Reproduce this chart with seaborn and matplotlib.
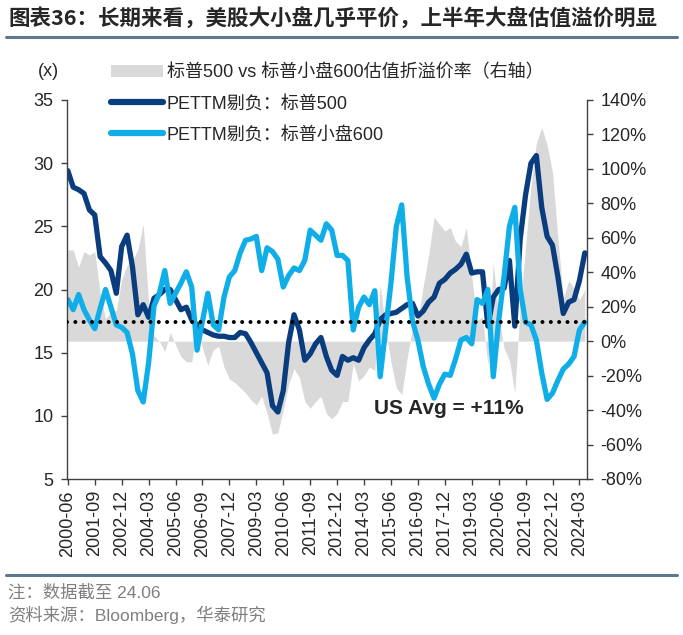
import pandas as pd
import matplotlib
matplotlib.use("Agg")
import matplotlib.pyplot as plt
import matplotlib.transforms as mtransforms
from matplotlib.patches import Patch
from matplotlib.lines import Line2D
import seaborn as sns

# quarterly, 2000-06 .. 2024-06
quarters = pd.period_range("2000Q2", "2024Q2", freq="Q")
quarter_labels = [f"{p.year}-{p.quarter * 3:02d}" for p in quarters]

pe_sp500 = [
    29.4, 28.1, 27.9, 27.6, 26.3, 25.9, 22.6, 22.1, 21.5, 19.7,
    23.4, 24.3, 21.8, 18.0, 18.8, 17.8, 19.3, 19.6, 20.0, 20.0,
    19.2, 18.4, 18.6, 17.6, 17.2, 16.8, 16.6, 16.4, 16.3, 16.3,
    16.2, 16.2, 16.6, 16.5, 15.8, 15.0, 14.2, 13.4, 10.8, 10.3,
    12.0, 15.8, 18.0, 16.8, 14.4, 14.9, 15.7, 16.2, 14.7, 13.6,
    13.2, 14.7, 14.4, 14.6, 14.4, 15.4, 16.0, 16.5, 17.6, 18.0,
    18.1, 18.2, 18.5, 18.8, 18.9, 17.9, 18.3, 19.0, 19.4, 20.5,
    20.8, 21.3, 21.6, 22.0, 22.8, 21.3, 21.4, 21.4, 17.1, 19.4,
    20.0, 20.1, 22.3, 17.1, 24.0, 27.5, 30.0, 30.6, 26.5, 24.2,
    23.5, 21.0, 18.1, 19.0, 19.2, 20.7, 22.9,
]

pe_sp600 = [
    19.2, 18.4, 19.6, 18.4, 17.6, 16.9, 18.5, 20.0, 18.6, 17.2,
    17.0, 16.6, 14.9, 12.0, 11.1, 14.2, 18.7, 19.7, 21.5, 18.9,
    19.7, 20.5, 21.4, 20.2, 15.2, 17.5, 19.7, 17.2, 16.8, 19.4,
    21.0, 21.5, 22.9, 23.9, 24.0, 24.2, 21.5, 23.3, 23.0, 22.4,
    20.2, 21.1, 21.7, 21.5, 22.3, 24.7, 24.3, 23.9, 25.2, 24.7,
    22.7, 22.7, 22.3, 16.8, 18.6, 19.4, 18.8, 19.9, 13.1, 16.8,
    20.5, 25.0, 26.7, 21.0, 17.5, 16.0, 13.9, 12.5, 11.4, 12.5,
    13.3, 13.2, 14.5, 16.0, 16.2, 15.7, 19.2, 18.9, 20.0, 13.1,
    17.5, 21.0, 25.0, 26.5, 20.0, 17.4, 17.2, 16.0, 13.4, 11.3,
    11.8, 12.8, 13.7, 14.1, 14.7, 16.8, 17.4,
]

# premium of S&P500 over S&P600 (%), right axis
premium = [
    53, 53, 43, 52, 50, 52, 28, 13, 17, 18,
    36, 44, 47, 53, 68, 22, 3, 0, -6, 5,
    -2, -9, -12, -12, 10, -4, -14, -5, -3, -15,
    -22, -24, -27, -30, -34, -37, -32, -42, -54, -53,
    -40, -25, -16, -21, -35, -39, -35, -32, -42, -45,
    -42, -35, -35, -13, -23, -20, -15, -17, 33, 7,
    -12, -27, -31, -10, 8, 12, 32, 50, 72, 68,
    64, 66, 58, 55, 66, 38, 12, 14, -14, 46,
    14, -4, -11, -30, 20, 55, 90, 115, 124, 114,
    98, 60, 25, 35, 31, 24, 30,
]
avg_premium = 11

left_ticks = [5, 10, 15, 20, 25, 30, 35]
right_ticks = list(range(-80, 141, 20))

title = "图表36：长期来看，美股大小盘几乎平价，上半年大盘估值溢价明显"
legend_labels = ["标普500 vs 标普小盘600估值折溢价率（右轴）",
                 "PETTM剔负：标普500", "PETTM剔负：标普小盘600"]
note = "注：数据截至 24.06"
source = "资料来源：Bloomberg，华泰研究"

DARK = "#0A3D7E"
LIGHT = "#10AEE8"
GREY = "#D9D9D9"
RULE = "#5E7890"

sns.set_theme(style="white")
plt.rcParams["font.family"] = ["Liberation Sans", "Noto Sans CJK SC"]

df = pd.DataFrame({"q": range(len(quarters)), "sp500": pe_sp500,
                   "sp600": pe_sp600, "prem": premium})

W, H = 683, 635
fig = plt.figure(figsize=(W / 100, H / 100), dpi=100)
ax = fig.add_axes([67.3 / W, 1 - 479 / H, (586.7 - 67.3) / W, (479 - 100) / H])
ax2 = ax.twinx()
ax.set_zorder(ax2.get_zorder() + 1)
ax.patch.set_visible(False)

ax2.fill_between(df["q"], 0, df["prem"], color=GREY, lw=0)

sns.lineplot(data=df, x="q", y="sp500", ax=ax, color=DARK, lw=3.8)
sns.lineplot(data=df, x="q", y="sp600", ax=ax, color=LIGHT, lw=3.8)

# average premium, positioned on the right axis scale but drawn above the lines
trans = mtransforms.blended_transform_factory(ax.transAxes, ax2.transData)
ax.plot([0, 1], [avg_premium, avg_premium], transform=trans, color="black",
        lw=2.9, linestyle=(0, (0.001, 2.07)), dash_capstyle="round", zorder=5)
ax.text(70.8, 10.6, "US Avg = +11%", fontsize=15, fontweight="bold",
        ha="center", va="center", zorder=6)

ax.set_xlim(-0.1, 96.35)
ax.set_ylim(5, 35)
ax2.set_ylim(-80, 140)
ax.set_xticks(range(0, len(quarters), 5))
ax.set_xticklabels(quarter_labels[::5], rotation=90)
ax.set_yticks(left_ticks)
ax2.set_yticks(right_ticks)
ax2.set_yticklabels([f"{v}%" for v in right_ticks])
ax.set_xlabel("")
ax.set_ylabel("")

for a in (ax, ax2):
    for s in a.spines.values():
        s.set_color("#404040")
        s.set_linewidth(1.0)
    a.spines["top"].set_visible(False)
ax2.spines["left"].set_visible(False)
ax2.spines["bottom"].set_visible(False)
ax.spines["right"].set_visible(False)

ax.tick_params(axis="y", direction="out", length=4, width=1, color="#404040",
               labelsize=13, pad=6, left=True)
ax.tick_params(axis="x", direction="out", length=4, width=1, color="#404040",
               labelsize=13, pad=4, bottom=True)
ax2.tick_params(axis="y", direction="out", length=4, width=1, color="#404040",
                labelsize=13, pad=6, right=True)

fig.text(48 / W, 1 - 72 / H, "(x)", fontsize=13, ha="center", va="center")

handles = [Patch(facecolor=GREY, edgecolor="none"),
           Line2D([], [], color=DARK, lw=4.5, solid_capstyle="round"),
           Line2D([], [], color=LIGHT, lw=4.5, solid_capstyle="round")]
fig.legend(handles, legend_labels, loc="upper left",
           bbox_to_anchor=(111 / W, 1 - 64 / H), frameon=False, fontsize=13,
           handlelength=2.9, handleheight=0.7, handletextpad=0.2,
           labelspacing=0.78, borderpad=0, borderaxespad=0)

fig.text(8 / W, 1 - 18 / H, title, fontsize=15.5, fontweight="bold",
         family=["Noto Sans CJK SC"], ha="left", va="center")
fig.add_artist(Line2D([6 / W, 677 / W], [1 - 37 / H, 1 - 37 / H],
                      transform=fig.transFigure, color=RULE, lw=2.2))
fig.add_artist(Line2D([6 / W, 677 / W], [1 - 575 / H, 1 - 575 / H],
                      transform=fig.transFigure, color=RULE, lw=2.2))
fig.text(8 / W, 1 - 592 / H, note, fontsize=12.5, color="#7F7F7F",
         ha="left", va="center")
fig.text(8 / W, 1 - 615 / H, source, fontsize=12.5, color="#7F7F7F",
         ha="left", va="center")

fig.savefig("out.png", dpi=100)
